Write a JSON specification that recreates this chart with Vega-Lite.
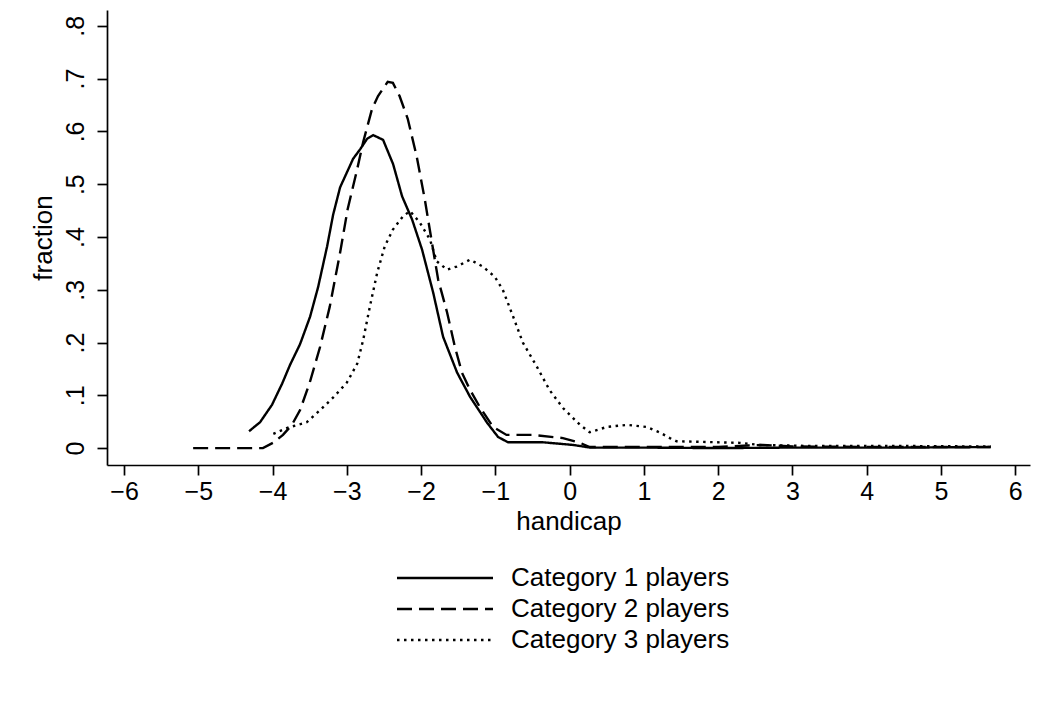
{
  "$schema": "https://vega.github.io/schema/vega-lite/v6.json",
  "autosize": {"type": "none"},
  "width": 923,
  "height": 455,
  "padding": {"left": 107, "top": 10, "right": 31, "bottom": 248},
  "background": "white",
  "config": {
    "view": {"stroke": null},
    "font": "Liberation Sans",
    "legend": {"labelFont": "Liberation Sans", "labelFontSize": 26, "labelColor": "black"}
  },
  "data": {"values": [
    {"c": "Category 1 players", "x": -4.317, "y": 0.032},
    {"c": "Category 1 players", "x": -4.169, "y": 0.049},
    {"c": "Category 1 players", "x": -4.008, "y": 0.082},
    {"c": "Category 1 players", "x": -3.872, "y": 0.122},
    {"c": "Category 1 players", "x": -3.764, "y": 0.158},
    {"c": "Category 1 players", "x": -3.630, "y": 0.197},
    {"c": "Category 1 players", "x": -3.495, "y": 0.249},
    {"c": "Category 1 players", "x": -3.387, "y": 0.305},
    {"c": "Category 1 players", "x": -3.266, "y": 0.382},
    {"c": "Category 1 players", "x": -3.185, "y": 0.442},
    {"c": "Category 1 players", "x": -3.091, "y": 0.494},
    {"c": "Category 1 players", "x": -2.916, "y": 0.548},
    {"c": "Category 1 players", "x": -2.822, "y": 0.566},
    {"c": "Category 1 players", "x": -2.727, "y": 0.586},
    {"c": "Category 1 players", "x": -2.646, "y": 0.593},
    {"c": "Category 1 players", "x": -2.512, "y": 0.584},
    {"c": "Category 1 players", "x": -2.377, "y": 0.538},
    {"c": "Category 1 players", "x": -2.256, "y": 0.477},
    {"c": "Category 1 players", "x": -2.121, "y": 0.433},
    {"c": "Category 1 players", "x": -1.987, "y": 0.376},
    {"c": "Category 1 players", "x": -1.838, "y": 0.295},
    {"c": "Category 1 players", "x": -1.704, "y": 0.211},
    {"c": "Category 1 players", "x": -1.515, "y": 0.143},
    {"c": "Category 1 players", "x": -1.340, "y": 0.097},
    {"c": "Category 1 players", "x": -1.111, "y": 0.048},
    {"c": "Category 1 players", "x": -0.963, "y": 0.021},
    {"c": "Category 1 players", "x": -0.828, "y": 0.011},
    {"c": "Category 1 players", "x": -0.357, "y": 0.011},
    {"c": "Category 1 players", "x": 0.047, "y": 0.006},
    {"c": "Category 1 players", "x": 0.276, "y": 0.001},
    {"c": "Category 1 players", "x": 1.0, "y": 0.001},
    {"c": "Category 1 players", "x": 2.0, "y": 0.0},
    {"c": "Category 1 players", "x": 3.0, "y": 0.001},
    {"c": "Category 1 players", "x": 4.5, "y": 0.001},
    {"c": "Category 1 players", "x": 5.67, "y": 0.002},
    {"c": "Category 2 players", "x": -5.07, "y": 0.0},
    {"c": "Category 2 players", "x": -4.13, "y": 0.0},
    {"c": "Category 2 players", "x": -3.995, "y": 0.010},
    {"c": "Category 2 players", "x": -3.86, "y": 0.025},
    {"c": "Category 2 players", "x": -3.74, "y": 0.044},
    {"c": "Category 2 players", "x": -3.63, "y": 0.072},
    {"c": "Category 2 players", "x": -3.50, "y": 0.124},
    {"c": "Category 2 players", "x": -3.36, "y": 0.192},
    {"c": "Category 2 players", "x": -3.23, "y": 0.268},
    {"c": "Category 2 players", "x": -3.09, "y": 0.371},
    {"c": "Category 2 players", "x": -2.99, "y": 0.452},
    {"c": "Category 2 players", "x": -2.86, "y": 0.529},
    {"c": "Category 2 players", "x": -2.78, "y": 0.580},
    {"c": "Category 2 players", "x": -2.66, "y": 0.643},
    {"c": "Category 2 players", "x": -2.58, "y": 0.667},
    {"c": "Category 2 players", "x": -2.45, "y": 0.694},
    {"c": "Category 2 players", "x": -2.38, "y": 0.692},
    {"c": "Category 2 players", "x": -2.29, "y": 0.667},
    {"c": "Category 2 players", "x": -2.18, "y": 0.624},
    {"c": "Category 2 players", "x": -2.06, "y": 0.553},
    {"c": "Category 2 players", "x": -1.95, "y": 0.471},
    {"c": "Category 2 players", "x": -1.855, "y": 0.390},
    {"c": "Category 2 players", "x": -1.77, "y": 0.319},
    {"c": "Category 2 players", "x": -1.65, "y": 0.257},
    {"c": "Category 2 players", "x": -1.545, "y": 0.192},
    {"c": "Category 2 players", "x": -1.45, "y": 0.143},
    {"c": "Category 2 players", "x": -1.34, "y": 0.110},
    {"c": "Category 2 players", "x": -1.21, "y": 0.078},
    {"c": "Category 2 players", "x": -1.03, "y": 0.040},
    {"c": "Category 2 players", "x": -0.85, "y": 0.025},
    {"c": "Category 2 players", "x": -0.50, "y": 0.025},
    {"c": "Category 2 players", "x": -0.09, "y": 0.019},
    {"c": "Category 2 players", "x": 0.14, "y": 0.010},
    {"c": "Category 2 players", "x": 0.27, "y": 0.002},
    {"c": "Category 2 players", "x": 1.0, "y": 0.002},
    {"c": "Category 2 players", "x": 2.0, "y": 0.002},
    {"c": "Category 2 players", "x": 2.4, "y": 0.005},
    {"c": "Category 2 players", "x": 2.6, "y": 0.006},
    {"c": "Category 2 players", "x": 3.0, "y": 0.003},
    {"c": "Category 2 players", "x": 4.5, "y": 0.002},
    {"c": "Category 2 players", "x": 5.67, "y": 0.002},
    {"c": "Category 3 players", "x": -3.99, "y": 0.027},
    {"c": "Category 3 players", "x": -3.81, "y": 0.038},
    {"c": "Category 3 players", "x": -3.54, "y": 0.049},
    {"c": "Category 3 players", "x": -3.36, "y": 0.072},
    {"c": "Category 3 players", "x": -3.19, "y": 0.095},
    {"c": "Category 3 players", "x": -3.00, "y": 0.124},
    {"c": "Category 3 players", "x": -2.86, "y": 0.160},
    {"c": "Category 3 players", "x": -2.78, "y": 0.205},
    {"c": "Category 3 players", "x": -2.69, "y": 0.268},
    {"c": "Category 3 players", "x": -2.59, "y": 0.333},
    {"c": "Category 3 players", "x": -2.49, "y": 0.382},
    {"c": "Category 3 players", "x": -2.38, "y": 0.414},
    {"c": "Category 3 players", "x": -2.245, "y": 0.439},
    {"c": "Category 3 players", "x": -2.15, "y": 0.449},
    {"c": "Category 3 players", "x": -2.02, "y": 0.428},
    {"c": "Category 3 players", "x": -1.88, "y": 0.395},
    {"c": "Category 3 players", "x": -1.79, "y": 0.354},
    {"c": "Category 3 players", "x": -1.65, "y": 0.338},
    {"c": "Category 3 players", "x": -1.52, "y": 0.344},
    {"c": "Category 3 players", "x": -1.34, "y": 0.357},
    {"c": "Category 3 players", "x": -1.17, "y": 0.344},
    {"c": "Category 3 players", "x": -1.01, "y": 0.325},
    {"c": "Category 3 players", "x": -0.90, "y": 0.300},
    {"c": "Category 3 players", "x": -0.76, "y": 0.249},
    {"c": "Category 3 players", "x": -0.63, "y": 0.200},
    {"c": "Category 3 players", "x": -0.44, "y": 0.154},
    {"c": "Category 3 players", "x": -0.27, "y": 0.110},
    {"c": "Category 3 players", "x": -0.09, "y": 0.076},
    {"c": "Category 3 players", "x": 0.14, "y": 0.044},
    {"c": "Category 3 players", "x": 0.27, "y": 0.030},
    {"c": "Category 3 players", "x": 0.50, "y": 0.040},
    {"c": "Category 3 players", "x": 0.77, "y": 0.044},
    {"c": "Category 3 players", "x": 1.04, "y": 0.040},
    {"c": "Category 3 players", "x": 1.21, "y": 0.030},
    {"c": "Category 3 players", "x": 1.35, "y": 0.019},
    {"c": "Category 3 players", "x": 1.44, "y": 0.013},
    {"c": "Category 3 players", "x": 2.29, "y": 0.010},
    {"c": "Category 3 players", "x": 2.56, "y": 0.006},
    {"c": "Category 3 players", "x": 3.23, "y": 0.004},
    {"c": "Category 3 players", "x": 4.5, "y": 0.004},
    {"c": "Category 3 players", "x": 5.67, "y": 0.003}
  ]},
  "mark": {"type": "line", "color": "black", "strokeWidth": 2.4},
  "encoding": {
    "x": {"field": "x", "type": "quantitative", "title": "handicap",
      "scale": {"domain": [-6.23, 6.2], "nice": false, "zero": false},
      "axis": {"values": [-6, -5, -4, -3, -2, -1, 0, 1, 2, 3, 4, 5, 6], "labelPadding": 4, "titlePadding": 4, "labelFlush": false, "labelOverlap": false,
        "domainColor": "black", "tickColor": "black", "labelColor": "black", "titleColor": "black", "domainWidth": 1.7, "tickWidth": 1.7, "tickSize": 10, "labelFontSize": 25, "titleFontSize": 26, "titleFontWeight": "normal", "grid": false, "labelFont": "Liberation Sans", "titleFont": "Liberation Sans"}},
    "y": {"field": "y", "type": "quantitative", "title": "fraction",
      "scale": {"domain": [-0.032, 0.83], "nice": false, "zero": false},
      "axis": {"values": [0, 0.1, 0.2, 0.3, 0.4, 0.5, 0.6, 0.7, 0.8], "labelAngle": -90, "labelAlign": "center", "labelBaseline": "alphabetic", "labelPadding": 14, "titlePadding": 7, "labelFlush": false, "labelOverlap": false,
        "labelExpr": "datum.value == 0 ? '0' : replace(format(datum.value, '.1f'), '0.', '.')",
        "domainColor": "black", "tickColor": "black", "labelColor": "black", "titleColor": "black", "domainWidth": 1.7, "tickWidth": 1.7, "tickSize": 10, "labelFontSize": 25, "titleFontSize": 26, "titleFontWeight": "normal", "grid": false, "labelFont": "Liberation Sans", "titleFont": "Liberation Sans"}},
    "strokeDash": {"field": "c", "type": "nominal", "title": null,
      "scale": {"domain": ["Category 1 players", "Category 2 players", "Category 3 players"], "range": [[1, 0], [15, 7], [2.5, 4.5]]},
      "legend": {"orient": "none", "legendX": 283, "legendY": 555, "symbolType": "M-1,0H15", "symbolSize": 144, "symbolStrokeWidth": 2.4, "symbolStrokeColor": "black", "labelOffset": 95, "rowPadding": 5, "labelLimit": 400, "labelFontSize": 26, "labelFont": "Liberation Sans", "labelColor": "black"}}
  }
}
